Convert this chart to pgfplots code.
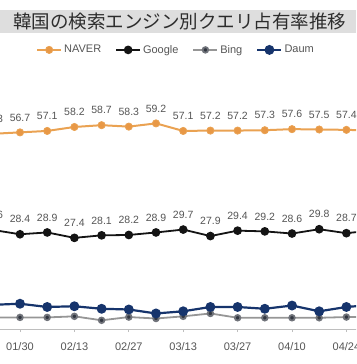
\documentclass[border=0pt]{standalone}
\usepackage{pgfplots}
\pgfplotsset{compat=1.18}
\usepackage{fontspec}
\setmainfont{Liberation Sans}
\newfontfamily\cjk{Noto Sans CJK JP}
\definecolor{titlegray}{RGB}{222,222,222}
\definecolor{titletext}{RGB}{45,45,45}
\definecolor{labelgray}{RGB}{85,85,85}
\definecolor{naverline}{RGB}{234,162,82}
\definecolor{naverfill}{RGB}{232,152,70}
\definecolor{googlec}{RGB}{20,20,20}
\definecolor{bingline}{RGB}{150,150,150}
\definecolor{bingmark}{RGB}{50,55,65}
\definecolor{daumc}{RGB}{22,52,108}
\definecolor{axisgray}{RGB}{190,190,190}
\begin{document}
\begin{tikzpicture}
\path[use as bounding box] (0,0) rectangle (356pt,364pt);
\clip (0,0) rectangle (356pt,364pt);
\fill[titlegray] (0,331pt) rectangle (356pt,354pt);
\node[text=titletext, font=\cjk\fontsize{18.5}{20}\selectfont, inner sep=0pt] at (179.5pt,342.5pt) {韓国の検索エンジン別クエリ占有率推移};
\begin{axis}[
  at={(-20.8pt,35pt)}, anchor=south west,
  scale only axis, width=408pt, height=230.1pt,
  xmin=-1.5, xmax=13.5, ymin=2.083, ymax=66,
  axis y line=none, axis x line*=bottom,
  x axis line style={draw=axisgray, line width=0.8pt, -},
  xtick={0,2,4,6,8,10,12},
  xticklabels={01/30,02/13,02/27,03/13,03/27,04/10,04/24},
  tick style={draw=axisgray, line width=0.8pt},
  tick align=outside, major tick length=3pt, xtick pos=bottom,
  xticklabel style={font=\fontsize{11}{13}\selectfont, text=labelgray, yshift=-7pt},
  /pgf/number format/.cd, fixed, fixed zerofill, precision=1, assume math mode=true,
  /pgfplots/.cd,
  every node near coord/.append style={font=\fontsize{10.5}{12}\selectfont, text=labelgray, anchor=base, yshift=11.3pt, inner sep=0pt},
  legend columns=4,
  legend style={at={(0.4824,1.2129)}, anchor=center, draw=none, fill=none,
    font=\fontsize{11}{13}\selectfont, text=labelgray,
    nodes={inner xsep=2pt, inner ysep=1pt},
    /tikz/every even column/.append style={column sep=12pt}},
  legend image code/.code={\draw[mark repeat=2,mark phase=2,#1] plot coordinates {(0pt,0pt) (12pt,0pt) (24pt,0pt)};},
]
\addplot[naverline, line width=2pt, mark=*, mark size=3.6pt, mark options={fill=naverfill, draw=naverline, line width=0.8pt}, nodes near coords] coordinates {
(-1,56.3) (0,56.7) (1,57.1) (2,58.2) (3,58.7) (4,58.3) (5,59.2) (6,57.1) (7,57.2) (8,57.2) (9,57.3) (10,57.6) (11,57.5) (12,57.4) (13,57.2)};
\addlegendentry{NAVER}
\addplot[googlec, line width=1.8pt, mark=*, mark size=3.4pt, mark options={fill=googlec, draw=googlec}, nodes near coords] coordinates {
(-1,29.6) (0,28.4) (1,28.9) (2,27.4) (3,28.1) (4,28.2) (5,28.9) (6,29.7) (7,27.9) (8,29.4) (9,29.2) (10,28.6) (11,29.8) (12,28.7) (13,29.5)};
\addlegendentry{Google}
\addplot[bingline, line width=1.8pt, mark=*, mark size=2.8pt, mark options={fill=bingmark, draw=bingmark!70}] coordinates {
(-1,5.3) (0,5.3) (1,5.3) (2,5.6) (3,4.5) (4,5.4) (5,5.0) (6,5.6) (7,6.4) (8,5.2) (9,5.2) (10,5.2) (11,5.2) (12,5.4) (13,5.4)};
\addlegendentry{Bing}
\addplot[daumc, line width=2.2pt, mark=*, mark size=3.8pt, mark options={fill=daumc, draw=daumc}] coordinates {
(-1,8.8) (0,9.1) (1,8.2) (2,8.4) (3,7.7) (4,7.5) (5,6.4) (6,7.0) (7,8.2) (8,8.2) (9,7.7) (10,8.6) (11,7.0) (12,8.2) (13,8.8)};
\addlegendentry{Daum}
\end{axis}
\end{tikzpicture}
\end{document}
